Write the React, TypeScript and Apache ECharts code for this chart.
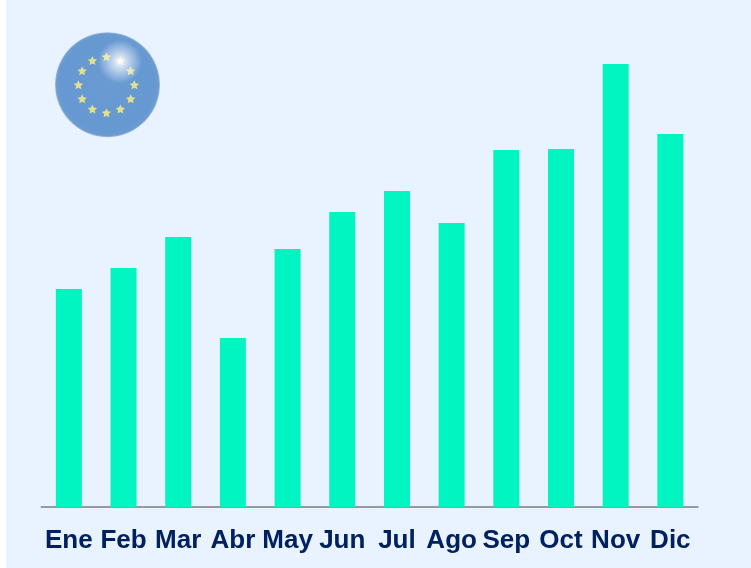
import React, { useEffect, useRef } from "react";
import * as echarts from "echarts";

const months = ["Ene", "Feb", "Mar", "Abr", "May", "Jun", "Jul", "Ago", "Sep", "Oct", "Nov", "Dic"];
const values = [218, 239, 270, 169, 258, 295, 316, 284, 357, 358, 443, 373];

const starAngles = [0, 30, 60, 90, 120, 150, 180, 210, 240, 270, 300, 330];

function starPoints(cx: number, cy: number, R: number) {
  const pts: number[][] = [];
  for (let i = 0; i < 10; i++) {
    const r = i % 2 === 0 ? R : R * 0.48;
    const a = (-90 + i * 36) * (Math.PI / 180);
    pts.push([cx + r * Math.cos(a), cy + r * Math.sin(a)]);
  }
  return pts;
}

export default function App() {
  const ref = useRef<HTMLDivElement>(null);
  useEffect(() => {
    const chart = echarts.init(ref.current!, null, { renderer: "svg" });
    const cx = 107.5;
    const cy = 84.7;
    const stars = starAngles.map((deg) => {
      const a = (deg * Math.PI) / 180;
      return {
        type: "polygon",
        z: 11,
        shape: { points: starPoints(106.4 + 28 * Math.sin(a), 85.3 - 28 * Math.cos(a), 5) },
        style: { fill: "#e2e08c" },
      };
    });
    chart.setOption({
      animation: false,
      backgroundColor: "transparent",
      grid: { left: 41.5, right: 53.3, top: 0, bottom: 61 },
      xAxis: {
        type: "category",
        data: months,
        axisTick: { show: false },
        axisLine: { lineStyle: { color: "#959ba3", width: 2 } },
        axisLabel: {
          color: "#002060",
          fontFamily: "Liberation Sans",
          fontWeight: "bold",
          fontSize: 26,
          margin: 19,
          interval: 0,
        },
      },
      yAxis: { type: "value", min: 0, max: 507, show: false, splitLine: { show: false } },
      series: [
        {
          type: "bar",
          data: values,
          barWidth: 26,
          itemStyle: { color: "#00f5c0" },
        },
      ],
      graphic: [
        {
          type: "rect",
          z: -1,
          silent: true,
          shape: { x: 6, y: 0, width: 745, height: 568 },
          style: { fill: "#e8f3ff" },
        },
        {
          type: "circle",
          z: 10,
          shape: { cx, cy, r: 52.5 },
          style: {
            fill: new echarts.graphic.RadialGradient(0.5, 0.5, 0.5, [
              { offset: 0, color: "#6a9bd3" },
              { offset: 0.88, color: "#6698d1" },
              { offset: 0.97, color: "#6b9bd0" },
              { offset: 1, color: "#a3bfdf" },
            ]),
          },
        },
        {
          type: "circle",
          z: 12,
          shape: { cx: 120, cy: 61.5, r: 22 },
          style: {
            fill: new echarts.graphic.RadialGradient(0.5, 0.5, 0.5, [
              { offset: 0, color: "rgba(255,255,255,0.95)" },
              { offset: 0.35, color: "rgba(255,255,255,0.6)" },
              { offset: 1, color: "rgba(255,255,255,0)" },
            ]),
          },
        },
        ...stars,
      ],
    });
    return () => chart.dispose();
  }, []);
  return <div ref={ref} style={{ position: "fixed", left: 0, top: 0, width: 751, height: 568 }} />;
}
